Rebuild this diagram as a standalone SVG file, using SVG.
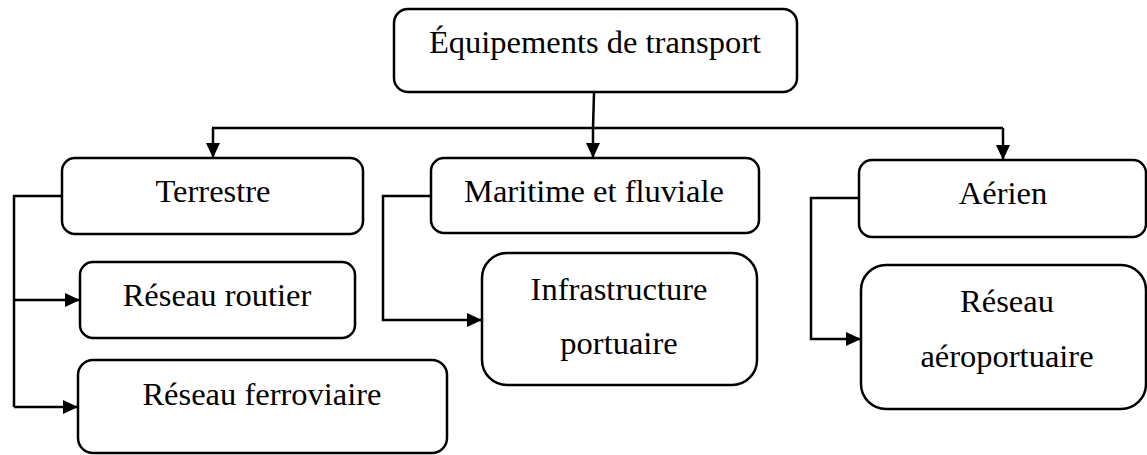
<svg xmlns="http://www.w3.org/2000/svg" width="1147" height="455" viewBox="0 0 1147 455">
<defs>
<marker id="arr" markerWidth="15" markerHeight="14" refX="15" refY="7" orient="auto" markerUnits="userSpaceOnUse">
<path d="M0,0 L15,7 L0,14 Z" fill="#000"/>
</marker>
<style>
.box{fill:#fff;stroke:#000;stroke-width:2.5}
.t{font-family:"Liberation Serif","Times New Roman",serif;font-size:32.5px;fill:#000;text-anchor:middle}
.c{fill:none;stroke:#000;stroke-width:2.5}
</style>
</defs>
<rect width="1147" height="455" fill="#fff"/>
<g id="connectors">
<path class="c" d="M594,93 L593,128" stroke-width="4"/>
<path class="c" d="M212,128 L1003,128"/>
<path class="c" d="M213,128 L213,158" marker-end="url(#arr)"/>
<path class="c" d="M593,128 L593,158" marker-end="url(#arr)"/>
<path class="c" d="M1003,128 L1003,160" marker-end="url(#arr)"/>
<path class="c" d="M62,196 L14,196 L14,407"/>
<path class="c" d="M14,300 L80,300" marker-end="url(#arr)"/>
<path class="c" d="M14,407 L78,407" marker-end="url(#arr)"/>
<path class="c" d="M431,196 L383,196 L383,320 L482,320" marker-end="url(#arr)"/>
<path class="c" d="M859,198 L811,198 L811,339 L861,339" marker-end="url(#arr)"/>
</g>
<g id="n-top">
<rect class="box" x="394" y="9" width="403" height="83" rx="14"/>
<text class="t" x="595" y="53">Équipements de transport</text>
</g>
<g id="n-terrestre">
<rect class="box" x="62" y="158" width="301" height="76" rx="13"/>
<text class="t" x="213" y="202">Terrestre</text>
</g>
<g id="n-maritime">
<rect class="box" x="431" y="158" width="328" height="75" rx="13"/>
<text class="t" x="594" y="202">Maritime et fluviale</text>
</g>
<g id="n-aerien">
<rect class="box" x="859" y="160" width="287" height="77" rx="13"/>
<text class="t" x="1003" y="204">Aérien</text>
</g>
<g id="n-routier">
<rect class="box" x="80" y="262" width="275" height="76" rx="13"/>
<text class="t" x="217" y="306">Réseau routier</text>
</g>
<g id="n-ferroviaire">
<rect class="box" x="78" y="360" width="369" height="93" rx="15"/>
<text class="t" x="262" y="405">Réseau ferroviaire</text>
</g>
<g id="n-portuaire">
<rect class="box" x="482" y="253" width="275" height="132" rx="25"/>
<text class="t" x="619" y="300">Infrastructure</text>
<text class="t" x="619" y="354">portuaire</text>
</g>
<g id="n-aeroportuaire">
<rect class="box" x="861" y="265" width="285" height="144" rx="25"/>
<text class="t" x="1007" y="312">Réseau</text>
<text class="t" x="1007" y="367">aéroportuaire</text>
</g>
</svg>
